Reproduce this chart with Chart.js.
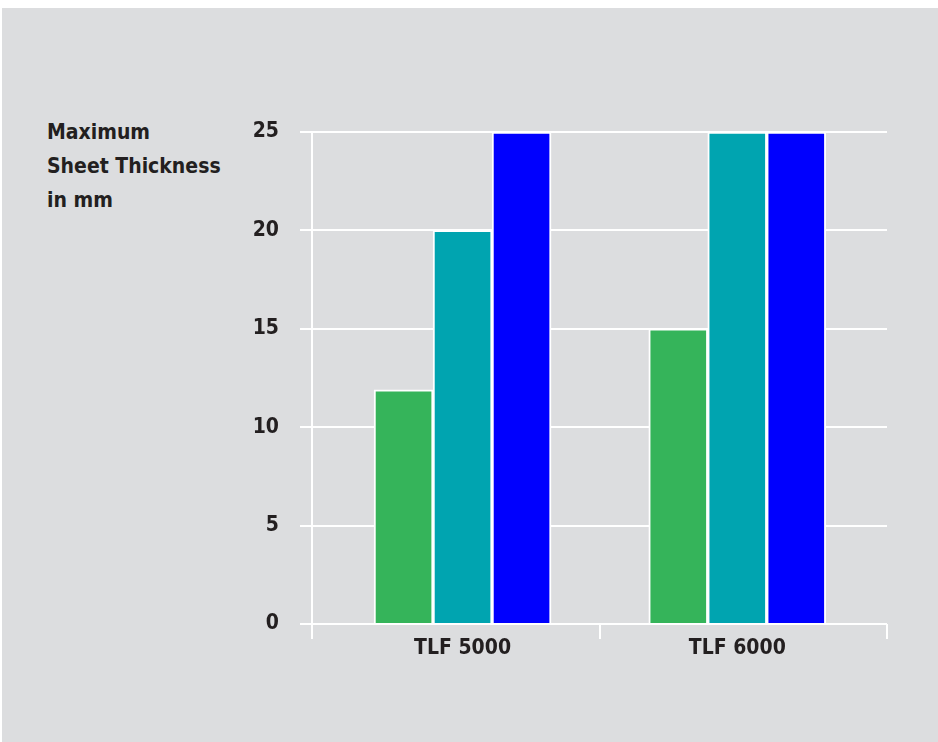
<!DOCTYPE html>
<html>
<head>
<meta charset="utf-8">
<script src="https://cdn.jsdelivr.net/npm/chart.js@4"></script>
<style>
  html, body { margin: 0; padding: 0; background: #ffffff; }
  #bg { position: absolute; left: 2px; top: 8px; right: 0; bottom: 0; background: #dcdddf; }
  #wrap { position: absolute; left: 0; top: 0; width: 938px; height: 742px; }
  #ytitle {
    position: absolute; left: 47px; top: 115px;
    font-family: "DejaVu Sans Condensed", "DejaVu Sans", sans-serif;
    font-weight: bold; font-size: 21px; line-height: 34px; color: #231f20;
  }
</style>
</head>
<body>
<div id="bg"></div>
<div id="ytitle">Maximum<br>Sheet Thickness<br>in mm</div>
<div id="wrap"><canvas id="chart"></canvas></div>
<script>
  // chart data
  const categories = ['TLF 5000', 'TLF 6000'];
  const greenValues = [11.9, 15];
  const tealValues = [20, 25];
  const blueValues = [25, 25];
  const yTicks = [0, 5, 10, 15, 20, 25];

  const fontFamily = '"DejaVu Sans Condensed", "DejaVu Sans", sans-serif';

  // x runs on a linear scale so the groups sit a bit inward from the axis ends, like the original
  const xMin = -0.548;
  const xMax = 1.545;

  const toPoints = (values) => values.map((v, i) => ({ x: i, y: v }));

  const ctx = document.getElementById('chart').getContext('2d');
  new Chart(ctx, {
    type: 'bar',
    data: {
      datasets: [
        { label: 'Green', data: toPoints(greenValues), backgroundColor: '#35b45a' },
        { label: 'Teal', data: toPoints(tealValues), backgroundColor: '#00a4b0' },
        { label: 'Blue', data: toPoints(blueValues), backgroundColor: '#0000fe' }
      ]
    },
    options: {
      responsive: true,
      maintainAspectRatio: false,
      animation: false,
      layout: { padding: { left: 0, top: 132, right: 51, bottom: 0 } },
      datasets: {
        bar: {
          borderColor: '#ffffff',
          borderWidth: 2,
          barThickness: 59
        }
      },
      plugins: {
        legend: { display: false },
        tooltip: { enabled: false }
      },
      scales: {
        x: {
          type: 'linear',
          min: xMin,
          max: xMax,
          offset: false,
          afterFit: (scale) => { scale.height = 118; },
          afterBuildTicks: (scale) => {
            scale.ticks = [xMin, 0, 0.5, 1, xMax].map(v => ({ value: v }));
          },
          grid: {
            display: true,
            offset: false,
            drawOnChartArea: false,
            drawTicks: true,
            tickLength: 15,
            lineWidth: 2,
            color: (c) => (c.tick && Number.isInteger(c.tick.value)) ? 'rgba(0,0,0,0)' : '#ffffff'
          },
          border: { display: false },
          ticks: {
            color: '#231f20',
            padding: -3,
            autoSkip: false,
            maxRotation: 0,
            font: { family: fontFamily, size: 21, weight: 'bold' },
            callback: (v) => Number.isInteger(v) ? categories[v] : ''
          }
        },
        y: {
          min: 0,
          max: 25,
          z: 1,
          afterFit: (scale) => { scale.width = 312; },
          afterBuildTicks: (scale) => { scale.ticks = yTicks.map(v => ({ value: v })); },
          grid: {
            color: '#ffffff',
            lineWidth: 2,
            tickLength: 12,
            drawTicks: true
          },
          border: { display: true, color: '#ffffff', width: 2 },
          ticks: {
            color: '#231f20',
            padding: 21,
            font: { family: fontFamily, size: 21, weight: 'bold' }
          }
        }
      }
    }
  });
</script>
</body>
</html>
